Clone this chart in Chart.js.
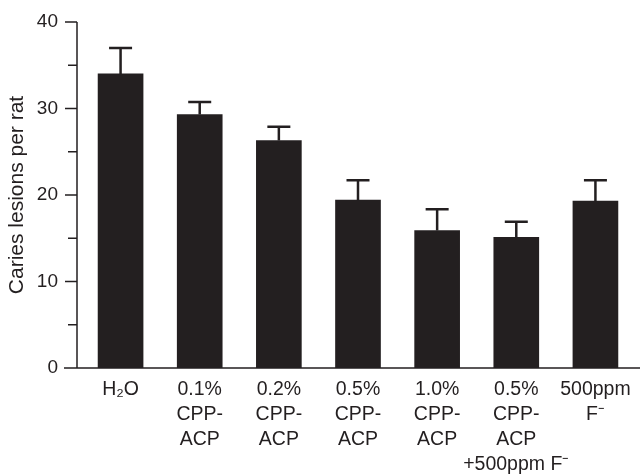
<!DOCTYPE html>
<html>
<head>
<meta charset="utf-8">
<script src="https://cdn.jsdelivr.net/npm/chart.js@4.4.1/dist/chart.umd.min.js"></script>
<style>
  body { margin: 0; background: #fff; }
  #wrap { width: 642px; height: 474px; }
</style>
</head>
<body>
<div id="wrap"><canvas id="chartData"></canvas></div>
<script>
{
    // groups (multi-line tick labels)
    const categories = [
        ["H₂O"],
        ["0.1%", "CPP-", "ACP"],
        ["0.2%", "CPP-", "ACP"],
        ["0.5%", "CPP-", "ACP"],
        ["1.0%", "CPP-", "ACP"],
        ["0.5%", "CPP-", "ACP", "+500ppm F⁻"],
        ["500ppm", "F⁻"]
    ];
    // mean caries lesions per rat
    const lesions = [34, 29.3, 26.3, 19.4, 15.9, 15.1, 19.3];
    // upper error (SEM)
    const lesionErr = [3, 1.45, 1.6, 2.3, 2.45, 1.8, 2.4];
    const yTicks = [0, 10, 20, 30, 40];
    const yMinorTicks = [5, 15, 25, 35];

    const ink = '#231f20';
    Chart.defaults.font.family = "'Liberation Sans', Arial, sans-serif";
    Chart.defaults.color = ink;

    // axis lines and tick marks drawn by hand (no box at top / right)
    const axesPlugin = {
        id: 'axes',
        afterDraw(chart) {
            const c = chart.ctx;
            const y = chart.scales.y;
            const area = chart.chartArea;
            const ax = area.left - 4;
            c.save();
            c.strokeStyle = ink;
            c.lineWidth = 1.5;
            c.beginPath();
            c.moveTo(ax, y.getPixelForValue(40));
            c.lineTo(ax, y.getPixelForValue(0));
            c.moveTo(ax - 13, y.getPixelForValue(0));
            c.lineTo(chart.width - 2, y.getPixelForValue(0));
            yTicks.forEach(v => {
                const py = y.getPixelForValue(v);
                c.moveTo(ax - 12, py);
                c.lineTo(ax, py);
            });
            yMinorTicks.forEach(v => {
                const py = y.getPixelForValue(v);
                c.moveTo(ax - 9, py);
                c.lineTo(ax, py);
            });
            c.stroke();
            c.restore();
        }
    };

    const errorBarPlugin = {
        id: 'errorBars',
        afterDatasetsDraw(chart) {
            const c = chart.ctx;
            const y = chart.scales.y;
            const meta = chart.getDatasetMeta(0);
            c.save();
            c.strokeStyle = ink;
            c.lineWidth = 2.5;
            meta.data.forEach((bar, i) => {
                const top = y.getPixelForValue(lesions[i] + lesionErr[i]);
                c.beginPath();
                c.moveTo(bar.x, bar.y);
                c.lineTo(bar.x, top);
                c.moveTo(bar.x - 11.5, top);
                c.lineTo(bar.x + 11.5, top);
                c.stroke();
            });
            c.restore();
        }
    };

    new Chart(document.getElementById('chartData'), {
        type: 'bar',
        data: {
            labels: categories,
            datasets: [{
                data: lesions,
                backgroundColor: ink,
                borderWidth: 0,
                barThickness: 45
            }]
        },
        options: {
            responsive: true,
            maintainAspectRatio: false,
            animation: false,
            layout: { padding: { top: 22, right: 7, left: 0, bottom: 0 } },
            plugins: { legend: { display: false }, tooltip: { enabled: false } },
            scales: {
                x: {
                    grid: { display: false, drawTicks: false },
                    border: { display: false },
                    ticks: {
                        font: { size: 19.5, lineHeight: '25px' },
                        padding: 9,
                        maxRotation: 0,
                        autoSkip: false
                    },
                    afterFit(scale) { scale.height = 106; }
                },
                y: {
                    min: 0,
                    max: 40,
                    grid: { display: false, drawTicks: false },
                    border: { display: false },
                    ticks: { stepSize: 10, font: { size: 19 }, padding: 23 },
                    title: {
                        display: true,
                        text: 'Caries lesions per rat',
                        font: { size: 21 },
                        padding: { top: 5, bottom: 0 }
                    },
                    afterFit(scale) {
                        scale.width = 81;
                        // label overflow padding would push the top of the plot down
                        scale.paddingTop = 0;
                        scale.paddingBottom = 0;
                    }
                }
            }
        },
        plugins: [axesPlugin, errorBarPlugin]
    });
}
</script>
</body>
</html>
